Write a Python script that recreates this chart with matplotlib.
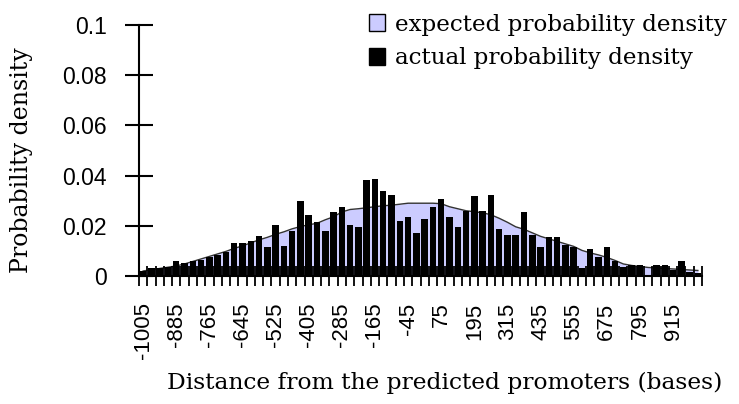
import numpy as np
import matplotlib.pyplot as plt

# Distance bins (bases), 30-base wide, from -1005 to 1005
distance = np.arange(-1005, 1006, 30)

# Expected probability density per bin
expected = [0.0020, 0.0025, 0.0030, 0.0035, 0.0040, 0.0048, 0.0058, 0.0068,
            0.0078, 0.0088, 0.0098, 0.0110, 0.0120, 0.0132, 0.0144, 0.0154,
            0.0166, 0.0176, 0.0188, 0.0197, 0.0204, 0.0210, 0.0224, 0.0236,
            0.0255, 0.0265, 0.0268, 0.0272, 0.0276, 0.0280, 0.0282, 0.0286,
            0.0290, 0.0290, 0.0290, 0.0290, 0.0288, 0.0276, 0.0268, 0.0260,
            0.0256, 0.0252, 0.0244, 0.0230, 0.0214, 0.0196, 0.0186, 0.0172,
            0.0158, 0.0148, 0.0138, 0.0128, 0.0118, 0.0102, 0.0092, 0.0084,
            0.0074, 0.0062, 0.0048, 0.0042, 0.0038, 0.0034, 0.0032, 0.0030,
            0.0028, 0.0026, 0.0024, 0.0022]

# Actual probability density per bin
actual = [0.0020, 0.0030, 0.0030, 0.0034, 0.0060, 0.0050, 0.0060, 0.0064,
          0.0075, 0.0084, 0.0097, 0.0130, 0.0130, 0.0140, 0.0160, 0.0117,
          0.0204, 0.0120, 0.0180, 0.0300, 0.0244, 0.0217, 0.0180, 0.0253,
          0.0273, 0.0204, 0.0197, 0.0381, 0.0388, 0.0340, 0.0324, 0.0220,
          0.0237, 0.0173, 0.0228, 0.0273, 0.0307, 0.0237, 0.0197, 0.0257,
          0.0317, 0.0260, 0.0324, 0.0188, 0.0164, 0.0164, 0.0253, 0.0164,
          0.0117, 0.0155, 0.0155, 0.0124, 0.0115, 0.0030, 0.0107, 0.0077,
          0.0115, 0.0060, 0.0037, 0.0044, 0.0044, 0.0000, 0.0044, 0.0044,
          0.0024, 0.0060, 0.0017, 0.0010]

yticks = [0, 0.02, 0.04, 0.06, 0.08, 0.1]
ytick_labels = ['0', '0.02', '0.04', '0.06', '0.08', '0.1']

serif = 'DejaVu Serif'
sans = 'Liberation Sans'

fig = plt.figure(figsize=(7.39, 4.04), dpi=100)
ax = fig.add_axes([139 / 739, 1 - 276 / 404, (702 - 139) / 739, (276 - 25) / 404])

pos = np.arange(len(distance))
ax.fill_between(pos, expected, color='#CCCCFF', lw=0, zorder=1)
ax.plot(pos, expected, color='#333333', lw=1.0, zorder=1.2)
ax.bar(pos, actual, width=0.78, color='black', zorder=1.4)

ax.set_xlim(-0.5, len(distance) - 0.5)
ax.set_ylim(0, 0.1)

for s in ['top', 'right']:
    ax.spines[s].set_visible(False)
for s in ['left', 'bottom']:
    ax.spines[s].set_linewidth(1.5)

# labels on every fourth bin, tick marks on bin boundaries
ax.set_xticks(pos[::4])
ax.set_xticklabels([str(d) for d in distance[::4]], rotation=90,
                   family=sans, fontsize=16)
ax.set_xticks(np.arange(-0.5, len(distance)), minor=True)
ax.tick_params(axis='x', which='major', length=0, pad=19)
ax.tick_params(axis='x', which='minor', direction='inout', length=15, width=1.3)

ax.set_yticks(yticks)
ax.set_yticklabels(ytick_labels, family=sans, fontsize=16.5)
ax.tick_params(axis='y', direction='inout', length=20, width=1.5, pad=13)

fig.text(22 / 739, 1 - 160 / 404, 'Probability density', rotation=90,
         ha='center', va='center', family=serif, fontsize=17)
fig.text(445 / 739, 1 - 383 / 404, 'Distance from the predicted promoters (bases)',
         ha='center', va='center', family=serif, fontsize=16.8)

h1 = plt.Rectangle((0, 0), 1, 1, facecolor='#CCCCFF', edgecolor='black', lw=1)
h2 = plt.Rectangle((0, 0), 1, 1, facecolor='black', edgecolor='black', lw=1)
fig.legend([h1, h2], ['expected probability density', 'actual probability density'],
           loc='upper left', bbox_to_anchor=(362 / 739, 1 - 7 / 404),
           frameon=False, prop={'family': serif, 'size': 16.6},
           handlelength=0.7, handleheight=0.75, handletextpad=0.45,
           labelspacing=0.5, borderaxespad=0, borderpad=0.3)

fig.savefig('out.png', dpi=100)
